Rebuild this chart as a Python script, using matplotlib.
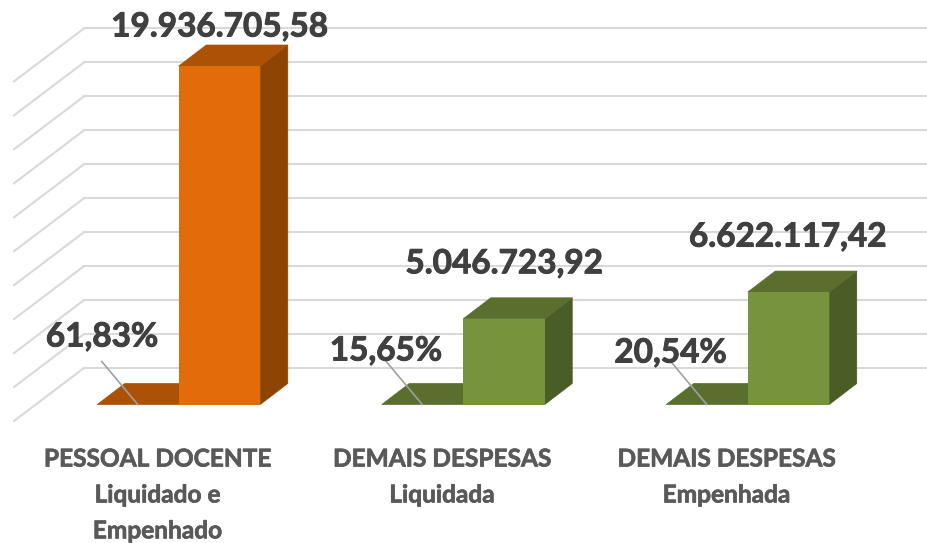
import matplotlib
matplotlib.use('Agg')
import matplotlib.pyplot as plt
import matplotlib.patheffects as pe
from matplotlib.patches import Polygon

categories = ['PESSOAL DOCENTE\nLiquidado e\nEmpenhado', 'DEMAIS DESPESAS\nLiquidada', 'DEMAIS DESPESAS\nEmpenhada']
values = [19936705.58, 5046723.92, 6622117.42]
value_labels = ['19.936.705,58', '5.046.723,92', '6.622.117,42']
percents = ['61,83%', '15,65%', '20,54%']
grid_values = [0, 2e6, 4e6, 6e6, 8e6, 10e6, 12e6, 14e6, 16e6, 18e6, 20e6]

front_colors = ['#E36C0A', '#77933C', '#77933C']
top_colors = ['#AC5206', '#5A6F2E', '#5A6F2E']
side_colors = ['#8E4403', '#4B5D26', '#4B5D26']

W, H = 928, 543
X0, X_STEP = 219.5, 284.5      # pixels of category 0 and between categories
Y0 = 404.5                     # pixel of value 0 on the bar plane
Y_SCALE = 338.5 / values[0]    # pixels per unit


def dx(p):
    return p / X_STEP


def dy(p):
    return p / Y_SCALE


def heavy(color, w):
    # Lato bold is lighter than the reference, thicken it a little
    return [pe.withStroke(linewidth=w, foreground=color)]


fig = plt.figure(figsize=(W / 100, H / 100), dpi=100)
ax = fig.add_axes([0, 0, 1, 1])
ax.set_xlim(-X0 / X_STEP, (W - X0) / X_STEP)
ax.set_ylim((Y0 - H) / Y_SCALE, Y0 / Y_SCALE)
ax.axis('off')

# walls
for v in grid_values:
    y_back = v + dy(Y0 - 368)
    ax.plot([-dx(X0 - 84), (W - X0) / X_STEP], [y_back, y_back], color='#D9D9D9', lw=1.5, zorder=1)
    ax.plot([-dx(X0 - 14), -dx(X0 - 84)], [v - dy(16.5), y_back], color='#D9D9D9', lw=1.5, zorder=1)

bar_w = dx(81.5)
ox, oy = dx(27.5), dy(21)
for i, v in enumerate(values):
    l = i - bar_w / 2
    r = i + bar_w / 2
    # flat zero-height bar of the percent series
    ax.add_patch(Polygon([(l - bar_w, 0), (l, 0), (l + ox, oy), (l - bar_w + ox, oy)],
                         fc=top_colors[i], ec=top_colors[i], lw=0.5, zorder=2))
    ax.add_patch(Polygon([(r, 0), (r + ox, oy), (r + ox, v + oy), (r, v)],
                         fc=side_colors[i], ec=side_colors[i], lw=0.5, zorder=3))
    ax.add_patch(Polygon([(l, v), (r, v), (r + ox, v + oy), (l + ox, v + oy)],
                         fc=top_colors[i], ec=top_colors[i], lw=0.5, zorder=3))
    ax.bar(i, v, width=bar_w, bottom=0, color=front_colors[i], zorder=4)

    # leader line of the percent label
    ax.plot([l - dx(77), l - dx(41)], [dy(43), 0], color='#A0A0A0', lw=1.2, zorder=5)

label_offsets = [(0, 39), (0, 55), (-1, 55)]
percent_offsets = [(-117.5, 67.5), (-118, 53.5), (-118, 51.5)]
for i, v in enumerate(values):
    ax.annotate(value_labels[i], xy=(i, v), xytext=label_offsets[i], textcoords='offset pixels',
                ha='center', va='center', fontsize=24, fontweight='bold', family='Lato', color='#404040',
                zorder=6, path_effects=heavy('#404040', 0.7))
    ax.annotate(percents[i], xy=(i, 0), xytext=percent_offsets[i], textcoords='offset pixels',
                ha='center', va='center', fontsize=24, fontweight='bold', family='Lato', color='#404040',
                zorder=6, path_effects=heavy('#404040', 0.7))
    ax.annotate(categories[i], xy=(i, 0), xytext=(-62, -43), textcoords='offset pixels',
                ha='center', va='top', fontsize=17.6, fontweight='bold', family='Lato', color='#595959',
                linespacing=1.68, zorder=6, path_effects=heavy('#595959', 0.5))

fig.savefig('out.png', dpi=100)
